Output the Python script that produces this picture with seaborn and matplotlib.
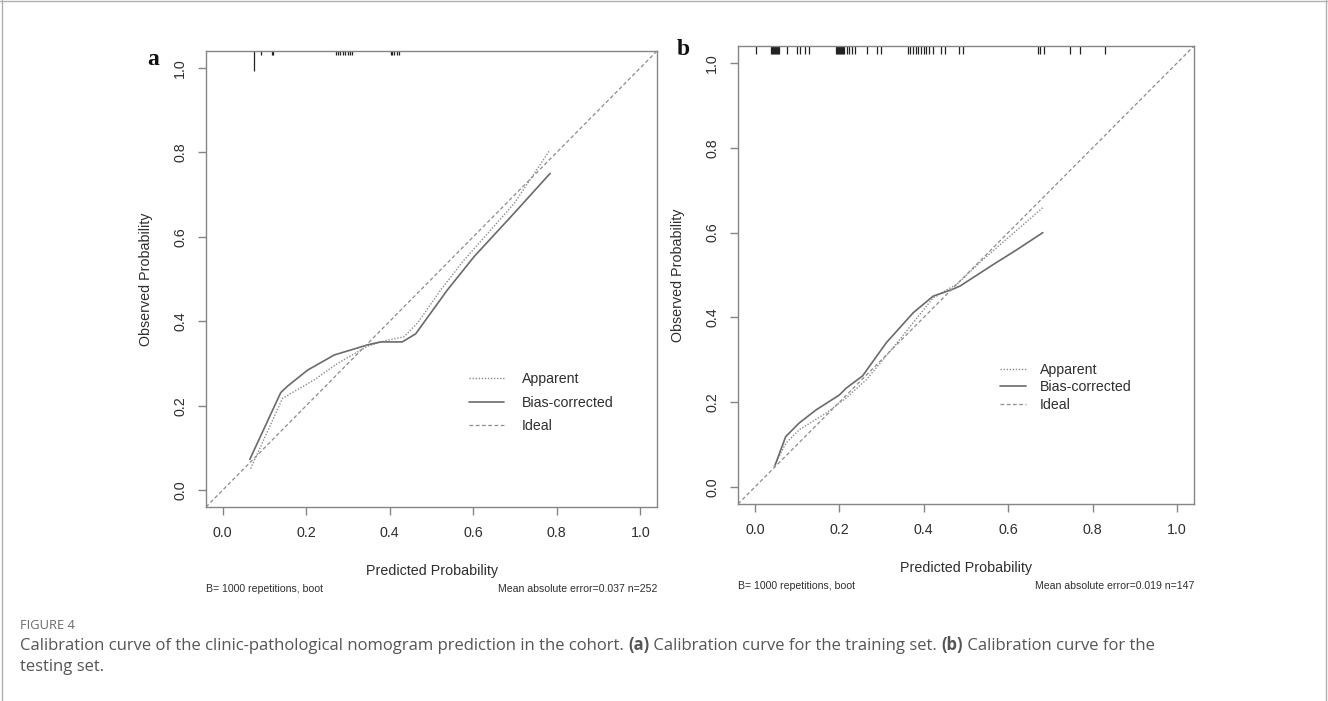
import numpy as np
import pandas as pd
import matplotlib
matplotlib.use("Agg")
import matplotlib.pyplot as plt
import seaborn as sns
from matplotlib.lines import Line2D

# ---------------- data ----------------
# Panel a: training set
a_app_x = [0.067, 0.143, 0.163, 0.219, 0.275, 0.347, 0.394, 0.434, 0.466, 0.522, 0.578, 0.698, 0.784]
a_app_y = [0.051, 0.217, 0.229, 0.261, 0.300, 0.341, 0.355, 0.363, 0.395, 0.474, 0.545, 0.679, 0.806]
a_bias_x = [0.065, 0.139, 0.155, 0.203, 0.267, 0.347, 0.378, 0.430, 0.462, 0.538, 0.602, 0.698, 0.784]
a_bias_y = [0.073, 0.231, 0.246, 0.284, 0.320, 0.344, 0.351, 0.351, 0.370, 0.474, 0.553, 0.656, 0.750]
a_rug_x = [0.075, 0.091, 0.117, 0.120, 0.271, 0.275, 0.281, 0.287, 0.293, 0.299, 0.304, 0.310,
           0.402, 0.406, 0.411, 0.417, 0.422]
a_rug_n = [5, 1, 1, 1, 1, 1, 1, 1, 1, 1, 1, 1, 1, 1, 1, 1, 1]
a_sub_left = "B= 1000 repetitions, boot"
a_sub_right = "Mean absolute error=0.037 n=252"

# Panel b: testing set
b_app_x = [0.045, 0.073, 0.105, 0.168, 0.216, 0.264, 0.343, 0.422, 0.478, 0.541, 0.682]
b_app_y = [0.048, 0.103, 0.135, 0.174, 0.210, 0.253, 0.348, 0.446, 0.478, 0.537, 0.659]
b_bias_x = [0.048, 0.073, 0.105, 0.145, 0.200, 0.216, 0.255, 0.311, 0.375, 0.422, 0.470, 0.486,
            0.565, 0.621, 0.682]
b_bias_y = [0.052, 0.119, 0.151, 0.182, 0.217, 0.233, 0.262, 0.340, 0.411, 0.450, 0.467, 0.474,
            0.525, 0.560, 0.600]
b_rug_x = [0.002, 0.038, 0.040, 0.043, 0.045, 0.048, 0.050, 0.052, 0.055, 0.057, 0.076, 0.100,
           0.106, 0.119, 0.127, 0.192, 0.194, 0.197, 0.199, 0.202, 0.204, 0.207, 0.209, 0.212,
           0.217, 0.224, 0.230, 0.238, 0.266, 0.290, 0.299, 0.362, 0.368, 0.375, 0.381, 0.387,
           0.394, 0.400, 0.406, 0.413, 0.421, 0.440, 0.450, 0.484, 0.492, 0.670, 0.676, 0.684,
           0.746, 0.771, 0.829]
b_rug_n = [1] * len(b_rug_x)
b_sub_left = "B= 1000 repetitions, boot"
b_sub_right = "Mean absolute error=0.019 n=147"

tick_vals = [0.0, 0.2, 0.4, 0.6, 0.8, 1.0]
tick_labels = ["0.0", "0.2", "0.4", "0.6", "0.8", "1.0"]
legend_labels = ["Apparent", "Bias-corrected", "Ideal"]
x_label = "Predicted Probability"
y_label = "Observed Probability"
fig_tag = "FIGURE 4"
caption1 = [("Calibration curve of the clinic-pathological nomogram prediction in the cohort. ", "normal"),
            ("(a)", "bold"), (" Calibration curve for the training set. ", "normal"),
            ("(b)", "bold"), (" Calibration curve for the", "normal")]
caption2 = [("testing set.", "normal")]

# ---------------- style ----------------
sns.set_theme(style="ticks")
plt.rcParams['font.family'] = ['Liberation Sans', 'DejaVu Sans']

W, H = 1328, 701
fig = plt.figure(figsize=(W / 100, H / 100), dpi=100)
fig.patch.set_facecolor("white")

GRAY = "#858585"
TXT = "#2e2e2e"
APP_STYLE = dict(color="#8c8c8c", lw=1.0, linestyle=(0, (1, 1.2)))
BIAS_STYLE = dict(color="#6a6a6a", lw=1.2, linestyle="-")
IDEAL_STYLE = dict(color="#8c8c8c", lw=0.9, linestyle=(0, (3, 2)))


def px_axes(l, t, r, b):
    return [l / W, 1 - b / H, (r - l) / W, (b - t) / H]


def draw_panel(ax, app_x, app_y, bias_x, bias_y, rug_x, rug_n, rug_base,
               sub_left, sub_right, leg_anchor, leg_hl, leg_tp, leg_ls,
               ylab_x, xlab_y, sub_y):
    ax.set_facecolor("white")
    lim = (-0.04, 1.04)
    ax.set_xlim(lim)
    ax.set_ylim(lim)
    df_app = pd.DataFrame({"x": app_x, "y": app_y})
    df_bias = pd.DataFrame({"x": bias_x, "y": bias_y})
    sns.lineplot(data=df_app, x="x", y="y", ax=ax, sort=False, estimator=None, **APP_STYLE)
    sns.lineplot(data=df_bias, x="x", y="y", ax=ax, sort=False, estimator=None, **BIAS_STYLE)
    ax.axline((0, 0), slope=1, **IDEAL_STYLE)

    # rug along the top (frequency-scaled ticks)
    rx = np.asarray(rug_x)
    rn = np.asarray(rug_n)
    ax.vlines(rx, lim[1] - rug_base * rn, lim[1], color="#222222", lw=0.9)

    for s in ax.spines.values():
        s.set_color(GRAY)
        s.set_linewidth(1.0)
        s.set_visible(True)

    ax.set_xticks(tick_vals)
    ax.set_xticklabels(tick_labels)
    ax.set_yticks(tick_vals)
    ax.set_yticklabels(tick_labels)
    ax.tick_params(axis="both", direction="out", length=6, width=1.0, color=GRAY,
                   labelsize=10.3, labelcolor=TXT)
    ax.tick_params(axis="x", pad=8)
    ax.tick_params(axis="y", pad=7.5, labelrotation=90)
    for lab in ax.get_yticklabels():
        lab.set_va("center")

    ax.set_xlabel(x_label, fontsize=10.3, color=TXT)
    ax.set_ylabel(y_label, fontsize=10.3, color=TXT)
    ax.xaxis.set_label_coords(0.5, xlab_y)
    ax.yaxis.set_label_coords(ylab_x, 0.5)
    ax.yaxis.label.set_va("center")
    ax.xaxis.label.set_va("center")

    ax.text(0.0, sub_y, sub_left, transform=ax.transAxes, fontsize=7.6, color=TXT,
            ha="left", va="center")
    ax.text(1.0, sub_y, sub_right, transform=ax.transAxes, fontsize=7.6, color=TXT,
            ha="right", va="center")

    handles = [Line2D([], [], **APP_STYLE), Line2D([], [], **BIAS_STYLE),
               Line2D([], [], **IDEAL_STYLE)]
    leg = ax.legend(handles, legend_labels, loc="upper left", bbox_to_anchor=leg_anchor,
                    frameon=False, borderpad=0, borderaxespad=0, handlelength=leg_hl,
                    handletextpad=leg_tp, labelspacing=leg_ls, fontsize=10.2)
    for t in leg.get_texts():
        t.set_color(TXT)


ax_a = fig.add_axes(px_axes(206, 51, 657, 507))
ax_b = fig.add_axes(px_axes(738, 46, 1194, 504))

draw_panel(ax_a, a_app_x, a_app_y, a_bias_x, a_bias_y, a_rug_x, a_rug_n, 0.0095,
           a_sub_left, a_sub_right, ((469 - 206) / 451, (507 - 372) / 456), 2.5, 1.25, 0.68,
           (146 - 206) / 451, (507 - 571) / 456, (507 - 589) / 456)
draw_panel(ax_b, b_app_x, b_app_y, b_bias_x, b_bias_y, b_rug_x, b_rug_n, 0.019,
           b_sub_left, b_sub_right, ((1000 - 738) / 456, (504 - 363) / 458), 1.85, 0.95, 0.24,
           (678 - 738) / 456, (504 - 568) / 458, (504 - 586) / 458)

# panel letters
fig.text(147 / W, 1 - 65 / H, "a", family=["Liberation Serif", "DejaVu Serif"],
         fontweight="bold", fontsize=17, color="#111111", ha="left", va="baseline")
fig.text(677 / W, 1 - 55 / H, "b", family=["Liberation Serif", "DejaVu Serif"],
         fontweight="bold", fontsize=17, color="#111111", ha="left", va="baseline")

# caption
cap_font = ["Open Sans", "DejaVu Sans"]
fig.text(20 / W, 1 - 629 / H, fig_tag, family=cap_font, fontsize=9.3, color="#6a6a6a",
         ha="left", va="baseline")

renderer = fig.canvas.get_renderer()


def measure(parts, size):
    total = 0
    for txt, wt in parts:
        t = fig.text(0, 0, txt, family=cap_font, fontsize=size, fontweight=wt)
        total += t.get_window_extent(renderer).width
        t.remove()
    return total


target = 1156 - 20
size = 12.0 * target / measure(caption1, 12.0)


def rich_line(parts, x_px, y_px, size):
    x = x_px
    for txt, wt in parts:
        t = fig.text(x / W, 1 - y_px / H, txt, family=cap_font, fontsize=size,
                     fontweight=wt, color="#555555", ha="left", va="baseline")
        x += t.get_window_extent(renderer).width


rich_line(caption1, 20, 650, size)
rich_line(caption2, 20, 671, size)

# outer frame of the figure panel
for xs, ys in [([0.0015, 0.0015], [0, 1]), ([0.9985, 0.9985], [0, 1]), ([0, 1], [0.9985, 0.9985])]:
    fig.add_artist(Line2D(xs, ys, transform=fig.transFigure, color="#b0b0b0", lw=1.0))

fig.savefig("out.png", dpi=100, facecolor="white")
